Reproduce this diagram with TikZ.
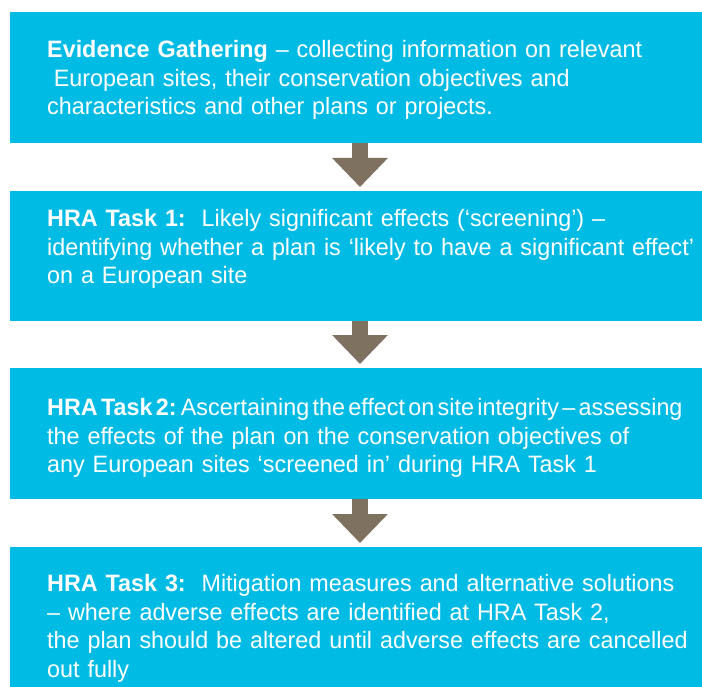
\documentclass[tikz,border=0pt]{standalone}
\usepackage{fontspec}
\setmainfont{Liberation Sans}[FakeStretch=0.985]
\usetikzlibrary{positioning,arrows.meta}
\definecolor{hrablue}{RGB}{0,187,228}
\definecolor{hrabrown}{RGB}{127,113,95}

\begin{document}
\begin{tikzpicture}[x=1pt,y=-1pt,font=\fontsize{23.7}{28.5}\selectfont]
\tikzset{B/.style={rectangle,fill=hrablue,minimum width=692pt,inner sep=0,outer sep=0},
T/.style={anchor=north west,inner sep=0,text width=665pt,align=left,text=white},
F/.style={draw=hrabrown,line width=16pt,-{Triangle[width=54pt,length=29pt]},shorten >=4pt}
}
\useasboundingbox (0,0) rectangle (702,687);

% the boxes
\node(b1)[B,anchor=north west,minimum height=131pt] at (10,12) {};
\node(b2)[B,minimum height=130pt,below=48pt of b1] {};
\node(b3)[B,minimum height=131pt,below=47pt of b2] {};
\node(b4)[B,minimum height=142pt,below=48pt of b3] {};

% texts in the boxes
\node(t1)[T,below right=28.5pt and 37pt of b1.north west]{\textbf{Evidence Gathering} -- collecting information on relevant\\
\hspace*{0.28em}European sites, their conservation objectives and\\
characteristics and other plans or projects.};
\node(t2)[T,below right=18.5pt and 37pt of b2.north west]{\textbf{HRA Task 1:}\ \ Likely significant effects (‘screening’) --\\
identifying whether a plan is ‘likely to have a significant effect’\\
on a European site};
\node(t3)[T,below right=30.5pt and 37pt of b3.north west]{{\spaceskip=0.14em\xspaceskip=0.18em\relax\textbf{HRA Task 2:} Ascertaining the effect on site integrity -- assessing}\\
the effects of the plan on the conservation objectives of\\
any European sites ‘screened in’ during HRA Task 1};
\node(t4)[T,below right=27.5pt and 37pt of b4.north west]{\textbf{HRA Task 3:}\ \ Mitigation measures and alternative solutions\\
-- where adverse effects are identified at HRA Task 2,\\
the plan should be altered until adverse effects are cancelled\\
out fully};

% arrows between the boxes
\draw[F]([xshift=4pt]b1.south)--([xshift=4pt]b2.north);
\draw[F]([xshift=4pt]b2.south)--([xshift=4pt]b3.north);
\draw[F]([xshift=4pt]b3.south)--([xshift=4pt]b4.north);

\end{tikzpicture}
\end{document}
